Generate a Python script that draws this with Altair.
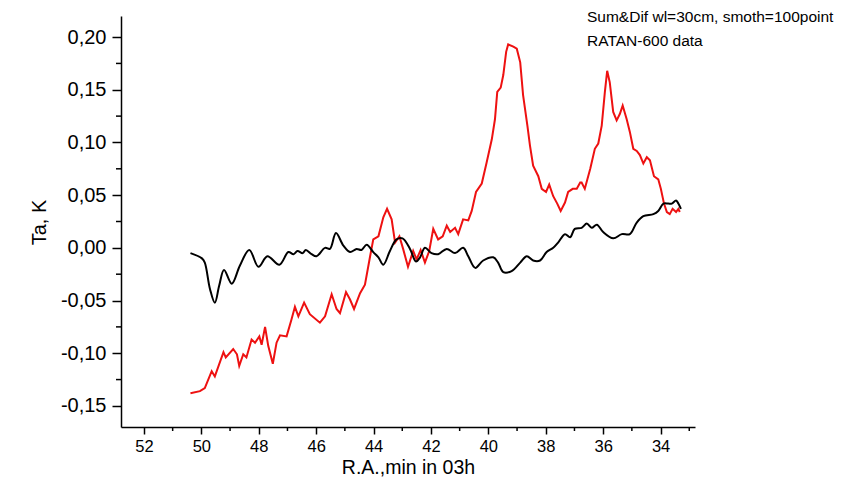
import altair as alt
import pandas as pd

# Sum signal (red)
sum_ra = [50.38, 50.05, 49.88, 49.64, 49.53, 49.23, 49.15, 48.89, 48.76, 48.68,
          48.54, 48.43, 48.25, 48.13, 47.98, 47.90, 47.78, 47.67, 47.51, 47.38,
          47.26, 47.03, 46.86, 46.74, 46.62, 46.42, 46.22, 45.87, 45.69, 45.46,
          45.29, 45.17, 44.96, 44.82, 44.68, 44.47, 44.30, 44.12, 44.01, 43.83,
          43.66, 43.53, 43.37, 43.25, 43.10, 42.97, 42.80, 42.62, 42.50, 42.36,
          42.21, 42.06, 41.92, 41.75, 41.59, 41.45, 41.33, 41.16, 41.05, 40.88,
          40.70, 40.58, 40.43, 40.23, 40.06, 39.88, 39.77, 39.69, 39.57, 39.48,
          39.38, 39.31, 39.13, 39.01, 38.89, 38.79, 38.64, 38.55, 38.44, 38.26,
          38.14, 37.99, 37.88, 37.74, 37.60, 37.48, 37.33, 37.22, 37.06, 36.92,
          36.80, 36.75, 36.64, 36.45, 36.29, 36.17, 36.05, 35.94, 35.86, 35.77,
          35.65, 35.53, 35.42, 35.32, 35.18, 35.07, 34.95, 34.83, 34.72, 34.60,
          34.48, 34.37, 34.23, 34.08, 33.99, 33.88, 33.78, 33.68, 33.58, 33.46,
          33.38, 33.33]
sum_ta = [-0.138, -0.136, -0.133, -0.117, -0.122, -0.099, -0.104, -0.096, -0.101, -0.112,
          -0.101, -0.104, -0.087, -0.090, -0.084, -0.092, -0.075, -0.093, -0.110, -0.090,
          -0.083, -0.084, -0.068, -0.056, -0.065, -0.052, -0.063, -0.071, -0.065, -0.044,
          -0.058, -0.062, -0.042, -0.049, -0.058, -0.043, -0.035, -0.008, 0.008, 0.011,
          0.029, 0.037, 0.027, 0.005, 0.011, -0.001, -0.018, -0.003, -0.011, -0.002,
          -0.014, -0.003, 0.018, 0.008, 0.011, 0.021, 0.015, 0.019, 0.013, 0.027,
          0.026, 0.035, 0.053, 0.061, 0.081, 0.103, 0.122, 0.148, 0.152, 0.164,
          0.186, 0.193, 0.191, 0.189, 0.176, 0.145, 0.116, 0.097, 0.078, 0.068,
          0.056, 0.053, 0.060, 0.049, 0.042, 0.035, 0.043, 0.053, 0.056, 0.056,
          0.062, 0.062, 0.056, 0.075, 0.094, 0.099, 0.116, 0.148, 0.168, 0.157,
          0.129, 0.121, 0.127, 0.135, 0.122, 0.110, 0.094, 0.092, 0.088, 0.080,
          0.086, 0.083, 0.068, 0.065, 0.056, 0.042, 0.034, 0.032, 0.037, 0.034,
          0.037, 0.034]

# Difference signal (black)
dif_ra = [50.38, 49.98, 49.88, 49.70, 49.53, 49.38, 49.21, 48.94, 48.66, 48.33,
          48.01, 47.70, 47.28, 46.97, 46.79, 46.65, 46.47, 46.36, 46.16, 45.99,
          45.69, 45.52, 45.31, 45.05, 44.82, 44.59, 44.42, 44.24, 44.01, 43.83,
          43.66, 43.43, 43.20, 42.99, 42.73, 42.52, 42.38, 42.21, 41.98, 41.75,
          41.45, 41.16, 40.88, 40.70, 40.46, 40.18, 39.83, 39.66, 39.48, 39.19,
          38.89, 38.66, 38.44, 38.20, 37.97, 37.74, 37.57, 37.33, 37.15, 36.99,
          36.75, 36.57, 36.40, 36.22, 36.00, 35.65, 35.35, 35.07, 34.83, 34.60,
          34.25, 34.08, 33.90, 33.73, 33.61, 33.46, 33.38, 33.29]
dif_ta = [-0.005, -0.010, -0.014, -0.039, -0.052, -0.036, -0.021, -0.034, -0.017, -0.002,
          -0.018, -0.008, -0.016, -0.004, -0.006, -0.003, -0.005, -0.002, -0.006, -0.008,
          0.000, -0.001, 0.014, 0.002, -0.004, -0.001, -0.002, 0.003, -0.004, -0.009,
          -0.016, -0.003, 0.008, 0.009, -0.001, -0.013, -0.009, 0.000, -0.005, -0.006,
          -0.001, -0.005, 0.000, -0.008, -0.019, -0.012, -0.009, -0.014, -0.023, -0.022,
          -0.014, -0.008, -0.012, -0.012, -0.004, 0.000, 0.005, 0.013, 0.010, 0.018,
          0.019, 0.023, 0.019, 0.022, 0.015, 0.009, 0.013, 0.013, 0.024, 0.030,
          0.032, 0.035, 0.042, 0.042, 0.042, 0.045, 0.042, 0.037]

x_major = [52, 50, 48, 46, 44, 42, 40, 38, 36, 34]
x_minor = [51, 49, 47, 45, 43, 41, 39, 37, 35, 33]
y_major = [-0.15, -0.10, -0.05, 0.00, 0.05, 0.10, 0.15, 0.20]
y_minor = [-0.125, -0.075, -0.025, 0.025, 0.075, 0.125, 0.175]
notes = ["Sum&Dif wl=30cm, smoth=100point", "RATAN-600 data"]
x_title = "R.A.,min in 03h"
y_title = "Ta, K"

FONT = "Liberation Sans"
W, H = 574, 411

sum_df = pd.DataFrame({"ra": sum_ra, "ta": sum_ta})
dif_df = pd.DataFrame({"ra": dif_ra, "ta": dif_ta})
xmin_df = pd.DataFrame({"ra": x_minor})
ymin_df = pd.DataFrame({"ta": y_minor})
one_df = pd.DataFrame({"k": [0]})

xscale = alt.Scale(domain=[32.8, 52.8], reverse=True, nice=False, zero=False)
yscale = alt.Scale(domain=[-0.17, 0.22], nice=False, zero=False)

x_axis = alt.Axis(values=x_major, grid=False, tickSize=7,
                  tickWidth=1.5, tickColor="black", domainColor="black",
                  domainWidth=1.5, labelFont=FONT, labelFontSize=16.5,
                  labelColor="black", labelPadding=4, labelFlush=False,
                  titleFont=FONT, titleFontSize=19.5, titleFontWeight="normal",
                  titleColor="black", titlePadding=4, format="d")
y_axis = alt.Axis(values=y_major, grid=False, tickSize=9,
                  tickWidth=1.5, tickColor="black", domainColor="black",
                  domainWidth=1.5, labelFont=FONT, labelFontSize=20,
                  labelColor="black", labelPadding=6, labelFlush=False,
                  labelExpr="(datum.value < 0 ? '-' : '') + replace(format(abs(datum.value), '.2f'), '.', ',')",
                  titleFont=FONT, titleFontSize=20, titleFontWeight="normal",
                  titleColor="black", titleX=-82, titleY=206,
                  titleBaseline="middle", titleAngle=-90)


def X():
    return alt.X("ra:Q", scale=xscale, axis=x_axis, title=x_title)


def Y():
    return alt.Y("ta:Q", scale=yscale, axis=y_axis, title=y_title)


sum_line = alt.Chart(sum_df).mark_line(color="#ee1111", strokeWidth=2).encode(x=X(), y=Y())
dif_line = alt.Chart(dif_df).mark_line(color="black", strokeWidth=2,
                                       interpolate="catmull-rom").encode(x=X(), y=Y())
x_minor_ticks = alt.Chart(xmin_df).mark_rule(color="black", strokeWidth=1.5).encode(
    x=X(), y=alt.value(H), y2=alt.value(H + 4))
y_minor_ticks = alt.Chart(ymin_df).mark_rule(color="black", strokeWidth=1.5).encode(
    y=Y(), x=alt.value(-5), x2=alt.value(0))
note1 = alt.Chart(one_df).mark_text(text=notes[0], align="left", baseline="alphabetic",
                                    font=FONT, fontSize=15.5, color="black").encode(
    x=alt.value(466), y=alt.value(6))
note2 = alt.Chart(one_df).mark_text(text=notes[1], align="left", baseline="alphabetic",
                                    font=FONT, fontSize=15.5, color="black").encode(
    x=alt.value(466), y=alt.value(30))

chart = alt.layer(sum_line, dif_line, x_minor_ticks, y_minor_ticks, note1, note2).properties(
    width=W, height=H,
    autosize=alt.AutoSizeParams(type="none"),
    padding={"left": 121, "top": 16, "right": 150, "bottom": 64},
    background="white",
).configure_view(stroke=None)

chart.save("out.html", embed_options={"renderer": "svg", "actions": False})
